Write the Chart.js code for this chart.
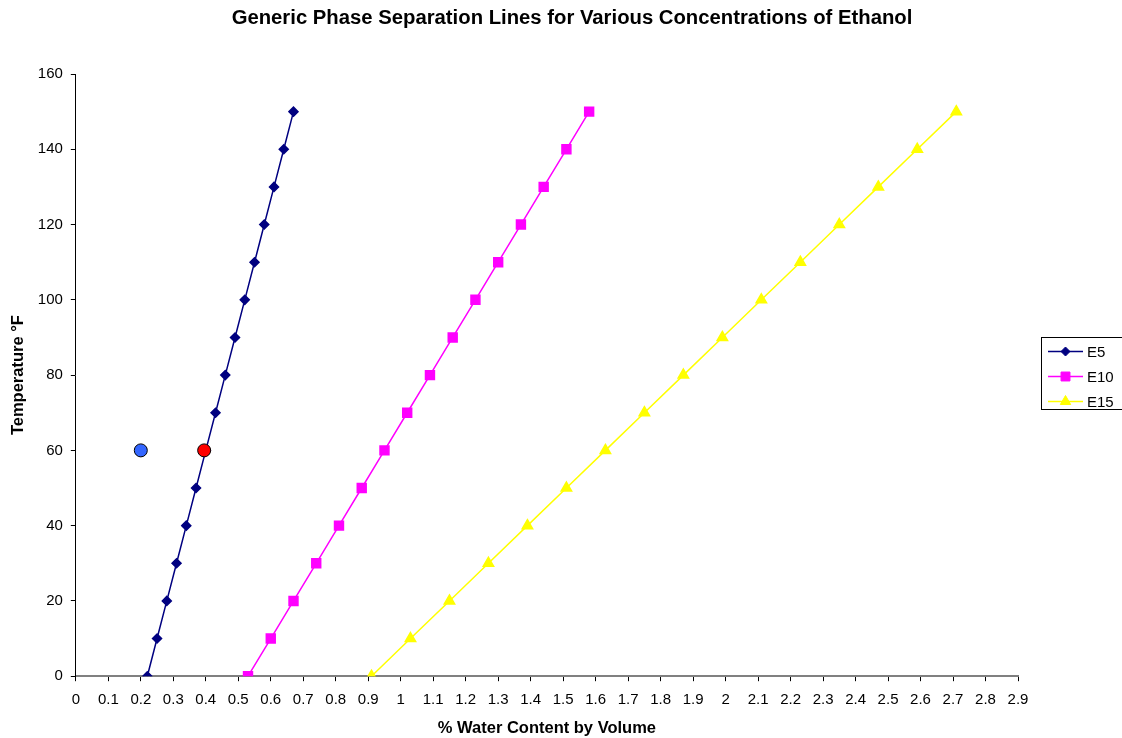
<!DOCTYPE html>
<html>
<head>
<meta charset="utf-8">
<title>Phase Separation Lines</title>
<script src="https://cdn.jsdelivr.net/npm/chart.js@4.4.1/dist/chart.umd.min.js"></script>
<style>
    html, body { margin: 0; padding: 0; background: #fff; }
    #wrap { width: 1122px; height: 738px; }
</style>
</head>
<body>
<div id="wrap"><canvas id="phase-chart" width="1122" height="738"></canvas></div>
<script>
/* ── Chart data ── */
// temperature steps (°F), shared by every blend
var temps = [0, 10, 20, 30, 40, 50, 60, 70, 80, 90, 100, 110, 120, 130, 140, 150];

// % water content at which each blend separates
var waterE5  = [0.22, 0.25, 0.28, 0.31, 0.34, 0.37, 0.40, 0.43, 0.46, 0.49, 0.52, 0.55, 0.58, 0.61, 0.64, 0.67];
var waterE10 = [0.53, 0.60, 0.67, 0.74, 0.81, 0.88, 0.95, 1.02, 1.09, 1.16, 1.23, 1.30, 1.37, 1.44, 1.51, 1.58];
var waterE15 = [0.91, 1.03, 1.15, 1.27, 1.39, 1.51, 1.63, 1.75, 1.87, 1.99, 2.11, 2.23, 2.35, 2.47, 2.59, 2.71];

var blendNames = ['E5', 'E10', 'E15'];

// two sample readings taken at 60 °F
var sampleBlue = [0.20, 60];
var sampleRed  = [0.395, 60];

// axis ranges
var xRange = [0, 2.9, 0.1];
var yRange = [0, 160, 20];

var chartTitle = 'Generic Phase Separation Lines for Various Concentrations of Ethanol';

function toPoints(xs) {
    return xs.map(function (x, i) { return { x: x, y: temps[i] }; });
}

var FONT = '"Liberation Sans", Arial, sans-serif';

/* ── Page title, centred on the page rather than the plot ── */
var pageTitle = {
    id: 'pageTitle',
    afterDraw: function (chart) {
        var ctx = chart.ctx;
        ctx.save();
        ctx.font = 'bold 20.3px ' + FONT;
        ctx.fillStyle = '#000';
        ctx.textAlign = 'center';
        ctx.textBaseline = 'middle';
        ctx.fillText(chartTitle, 572, 18);
        ctx.restore();
    }
};

/* ── Legend box drawn at the right edge ── */
var sideLegend = {
    id: 'sideLegend',
    afterDraw: function (chart) {
        var ctx = chart.ctx;
        ctx.save();
        ctx.strokeStyle = '#000';
        ctx.lineWidth = 1;
        ctx.strokeRect(1041.5, 337.5, 90, 72);
        ctx.font = '15px ' + FONT;
        ctx.textBaseline = 'middle';
        ctx.textAlign = 'left';

        chart.data.datasets.forEach(function (ds) {
            if (!ds.inLegend) return;
            var y = 351.5 + ds.legendRow * 25;
            ctx.strokeStyle = ds.borderColor;
            ctx.lineWidth = ds.borderWidth;
            ctx.beginPath();
            ctx.moveTo(1048, y);
            ctx.lineTo(1083, y);
            ctx.stroke();
            ctx.fillStyle = ds.pointBackgroundColor;
            ctx.strokeStyle = ds.pointBorderColor;
            ctx.lineWidth = 1;
            Chart.helpers.drawPoint(ctx, { pointStyle: ds.pointStyle, radius: ds.pointRadius, borderWidth: 1 }, 1065.5, y);
            ctx.fillStyle = '#000';
            ctx.fillText(ds.label, 1087, y + 1);
        });
        ctx.restore();
    }
};

var tickFont = { family: FONT, size: 15, lineHeight: 1 };
var axisTitleFont = { family: FONT, size: 16.5, weight: 'bold' };

var ctx = document.getElementById('phase-chart').getContext('2d');
var phaseChart = new Chart(ctx, {
    type: 'scatter',
    data: {
        datasets: [
            {
                label: 'sample A',
                data: [{ x: sampleRed[0], y: sampleRed[1] }],
                pointStyle: 'circle',
                pointRadius: 6.5,
                pointBackgroundColor: '#ff0000',
                pointBorderColor: '#000',
                pointBorderWidth: 1,
                showLine: false
            },
            {
                label: 'sample B',
                data: [{ x: sampleBlue[0], y: sampleBlue[1] }],
                pointStyle: 'circle',
                pointRadius: 6.5,
                pointBackgroundColor: '#3366ff',
                pointBorderColor: '#000',
                pointBorderWidth: 1,
                showLine: false
            },
            {
                label: blendNames[0],
                data: toPoints(waterE5),
                inLegend: true, legendRow: 0,
                borderColor: '#000080',
                borderWidth: 1.5,
                pointStyle: 'rectRot',
                pointRadius: 4.5,
                pointBackgroundColor: '#000080',
                pointBorderColor: '#000080',
                showLine: true
            },
            {
                label: blendNames[1],
                data: toPoints(waterE10),
                inLegend: true, legendRow: 1,
                borderColor: '#ff00ff',
                borderWidth: 1.5,
                pointStyle: 'rect',
                pointRadius: 6.3,
                pointBackgroundColor: '#ff00ff',
                pointBorderColor: '#ff00ff',
                showLine: true
            },
            {
                label: blendNames[2],
                data: toPoints(waterE15),
                inLegend: true, legendRow: 2,
                borderColor: '#ffff00',
                borderWidth: 1.5,
                pointStyle: 'triangle',
                pointRadius: 6,
                pointBackgroundColor: '#ffff00',
                pointBorderColor: '#ffff00',
                showLine: true
            }
        ]
    },
    options: {
        responsive: false,
        animation: false,
        devicePixelRatio: 1,
        layout: { padding: { left: 4, right: 104, top: 74, bottom: 0 } },
        plugins: {
            legend: { display: false },
            tooltip: { enabled: false },
            title: { display: false }
        },
        scales: {
            x: {
                type: 'linear',
                min: xRange[0],
                max: xRange[1],
                border: { color: '#808080', width: 2 },
                grid: { drawOnChartArea: false, drawTicks: true, tickLength: 5, color: '#000' },
                ticks: {
                    stepSize: xRange[2],
                    autoSkip: false,
                    maxRotation: 0,
                    padding: 11,
                    color: '#000',
                    font: tickFont,
                    callback: function (v) { return String(Math.round(v * 10) / 10); }
                },
                title: {
                    display: true,
                    text: '% Water Content by Volume',
                    color: '#000',
                    font: axisTitleFont,
                    padding: { top: 0, bottom: 0 }
                }
            },
            y: {
                type: 'linear',
                min: yRange[0],
                max: yRange[1],
                border: { color: '#000', width: 1 },
                grid: { drawOnChartArea: false, drawTicks: true, tickLength: 5, color: '#000' },
                ticks: {
                    stepSize: yRange[2],
                    padding: 8,
                    color: '#000',
                    font: tickFont
                },
                title: {
                    display: true,
                    text: 'Temperature °F',
                    color: '#000',
                    font: axisTitleFont,
                    padding: { top: 5, bottom: 1 }
                }
            }
        }
    },
    plugins: [pageTitle, sideLegend]
});
</script>
</body>
</html>
